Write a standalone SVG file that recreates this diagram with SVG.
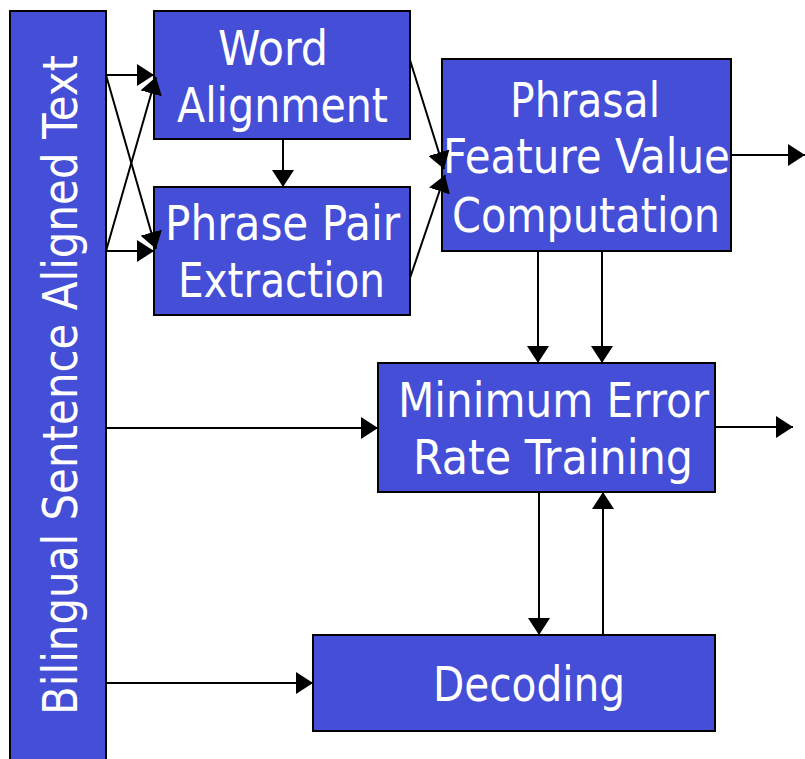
<svg xmlns="http://www.w3.org/2000/svg" width="805" height="759" viewBox="0 0 805 759">
<style>
.box{fill:#444ED6;stroke:#000;stroke-width:2}
.t{fill:#fff;font-family:"DejaVu Sans Condensed","DejaVu Sans",sans-serif;font-size:48px}
.c{stroke:#000;stroke-width:2;fill:none;marker-end:url(#ah)}
</style>
<defs>
<marker id="ah" markerUnits="userSpaceOnUse" markerWidth="18" markerHeight="22" refX="17" refY="11" orient="auto" viewBox="0 0 18 22">
<path d="M0,0 L17,11 L0,22 Z" fill="#000"/>
</marker>
</defs>
<rect width="805" height="759" fill="#fff"/>
<g id="bilingual">
<rect class="box" x="10" y="11" width="96" height="760"/>
<text class="t" transform="translate(77,715) rotate(-90)" x="0" y="0" textLength="660" lengthAdjust="spacingAndGlyphs">Bilingual Sentence Aligned Text</text>
</g>
<g id="word-alignment">
<rect class="box" x="154" y="11" width="256" height="128"/>
<text class="t" x="218" y="65" textLength="110" lengthAdjust="spacingAndGlyphs">Word</text>
<text class="t" x="177" y="122" textLength="211" lengthAdjust="spacingAndGlyphs">Alignment</text>
</g>
<g id="phrase-pair">
<rect class="box" x="154" y="187" width="256" height="128"/>
<text class="t" x="165" y="240" textLength="235" lengthAdjust="spacingAndGlyphs">Phrase Pair</text>
<text class="t" x="178" y="297" textLength="207" lengthAdjust="spacingAndGlyphs">Extraction</text>
</g>
<g id="phrasal">
<rect class="box" x="442" y="59" width="289" height="192"/>
<text class="t" x="510" y="117" textLength="150" lengthAdjust="spacingAndGlyphs">Phrasal</text>
<text class="t" x="443" y="173" textLength="287" lengthAdjust="spacingAndGlyphs">Feature Value</text>
<text class="t" x="452" y="232" textLength="268" lengthAdjust="spacingAndGlyphs">Computation</text>
</g>
<g id="mert">
<rect class="box" x="378" y="363" width="337" height="129"/>
<text class="t" x="398" y="417" textLength="311" lengthAdjust="spacingAndGlyphs">Minimum Error</text>
<text class="t" x="413" y="474" textLength="280" lengthAdjust="spacingAndGlyphs">Rate Training</text>
</g>
<g id="decoding">
<rect class="box" x="313" y="635" width="402" height="96"/>
<text class="t" x="433" y="701" textLength="192" lengthAdjust="spacingAndGlyphs">Decoding</text>
</g>
<g id="connectors">
<line class="c" x1="106" y1="75" x2="154" y2="75"/>
<line class="c" x1="106" y1="251" x2="154" y2="251"/>
<line class="c" x1="106" y1="75" x2="156" y2="249"/>
<line class="c" x1="106" y1="251" x2="156" y2="77"/>
<line class="c" x1="283" y1="139" x2="283" y2="187"/>
<line class="c" x1="410" y1="60" x2="444" y2="169"/>
<line class="c" x1="410" y1="278" x2="445" y2="175"/>
<line class="c" x1="731" y1="155" x2="805" y2="155"/>
<line class="c" x1="538" y1="251" x2="538" y2="363"/>
<line class="c" x1="602" y1="251" x2="602" y2="363"/>
<line class="c" x1="106" y1="428" x2="378" y2="428"/>
<line class="c" x1="715" y1="427" x2="793" y2="427"/>
<line class="c" x1="539" y1="492" x2="539" y2="635"/>
<line class="c" x1="603" y1="635" x2="603" y2="492"/>
<line class="c" x1="106" y1="683" x2="313" y2="683"/>
</g>
</svg>
